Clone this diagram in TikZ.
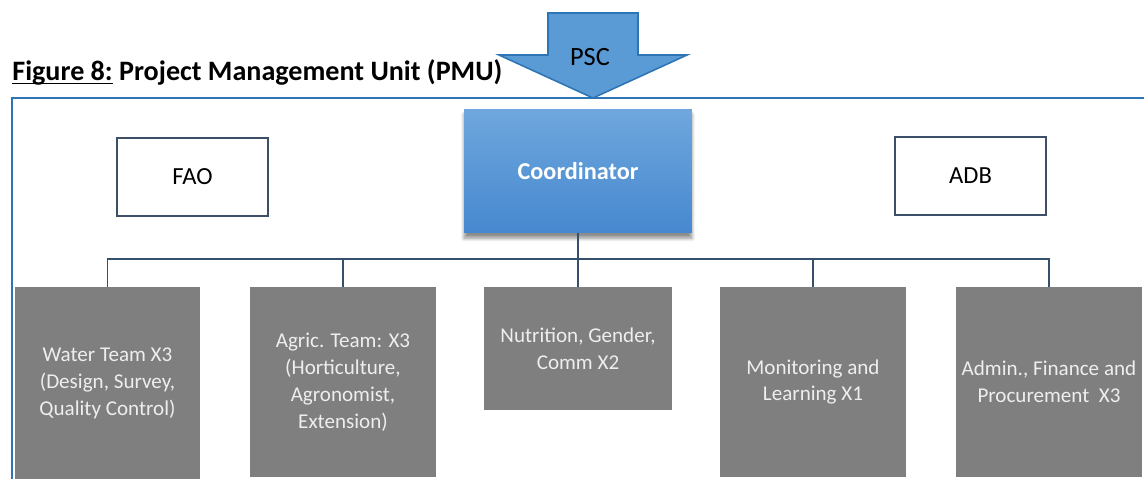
\documentclass[tikz,border=0pt]{standalone}
\usepackage{fontspec}
\setmainfont{Carlito}
\usetikzlibrary{shadows.blur}
\definecolor{framebl}{HTML}{2E75B6}
\definecolor{arrowbl}{HTML}{5B9BD5}
\definecolor{coordtop}{HTML}{6FA7DD}
\definecolor{coordbot}{HTML}{4688CF}
\definecolor{boxgray}{HTML}{7F7F7F}
\definecolor{boxtext}{HTML}{EEEEEE}
\definecolor{linkcol}{HTML}{34506B}
\definecolor{donorcol}{HTML}{3D4F66}

\begin{document}
\begin{tikzpicture}[x=0.02cm,y=-0.02cm,font=\fontsize{12}{15.3}\selectfont,
  team/.style 2 args={fill=boxgray,text=boxtext,inner sep=0pt,align=center,
    minimum width=#1,minimum height=#2},
  donor/.style={draw=donorcol,line width=1.2pt,fill=white,inner sep=0pt,
    minimum width=3.02cm,minimum height=1.56cm,font=\fontsize{14}{16}\selectfont},
  link/.style={draw=linkcol,line width=1.1pt}]
\useasboundingbox (0,0) rectangle (1144,479);
% title and frame
\node[anchor=base west,inner sep=0pt,font=\fontsize{16}{18}\selectfont\bfseries] (title) at (12,81)
  {\underline{\smash{Figure 8:}} Project Management Unit (PMU)};
\draw[framebl,line width=1.2pt] (12,480) -- (12,98) -- (1144,98);
% PSC arrow
\coordinate (tip) at (593,98);
\draw[framebl,fill=arrowbl,line width=0.9pt,line join=miter]
  (548,13) -- (638,13) -- (638,55) -- (687,55) -- (tip) -- (499,55) -- (548,55) -- cycle;
\node[font=\fontsize{15}{18}\selectfont] (psc) at (590,57) {PSC};
% top row
\node[fill,top color=coordtop,bottom color=coordbot,draw=none,minimum width=4.56cm,minimum height=2.48cm,
  blur shadow={shadow xshift=0pt,shadow yshift=-3pt,shadow blur steps=6,shadow opacity=45},
  text=white,font=\fontsize{13.8}{16}\selectfont\bfseries] (coord) at (578,171) {Coordinator};
\node[donor] (fao) at (192.5,177) {FAO};
\node[donor] (adb) at (970.5,176) {ADB};
% teams
\node[team={3.7cm}{3.84cm}] (water) at (107.5,383) {Water Team X3\\(Design, Survey,\\Quality Control)};
\node[team={3.72cm}{3.8cm}] (agric) at (343,382) {Agric. Team: X3\\(Horticulture,\\Agronomist,\\Extension)};
\node[team={3.76cm}{2.46cm}] (nutri) at (578,348.5) {Nutrition, Gender,\\Comm X2};
\node[team={3.72cm}{3.8cm}] (monit) at (813,382) {Monitoring and\\Learning X1};
\node[team={3.72cm}{3.8cm}] (admin) at (1049,382) {Admin., Finance and\\Procurement~~X3};
% connectors
\draw[link] (coord.south) -- ++(0,26) coordinate (hub);
\foreach \t in {water,agric,nutri,monit,admin}
  \draw[link] (hub) -| (\t.north);
\end{tikzpicture}
\end{document}
